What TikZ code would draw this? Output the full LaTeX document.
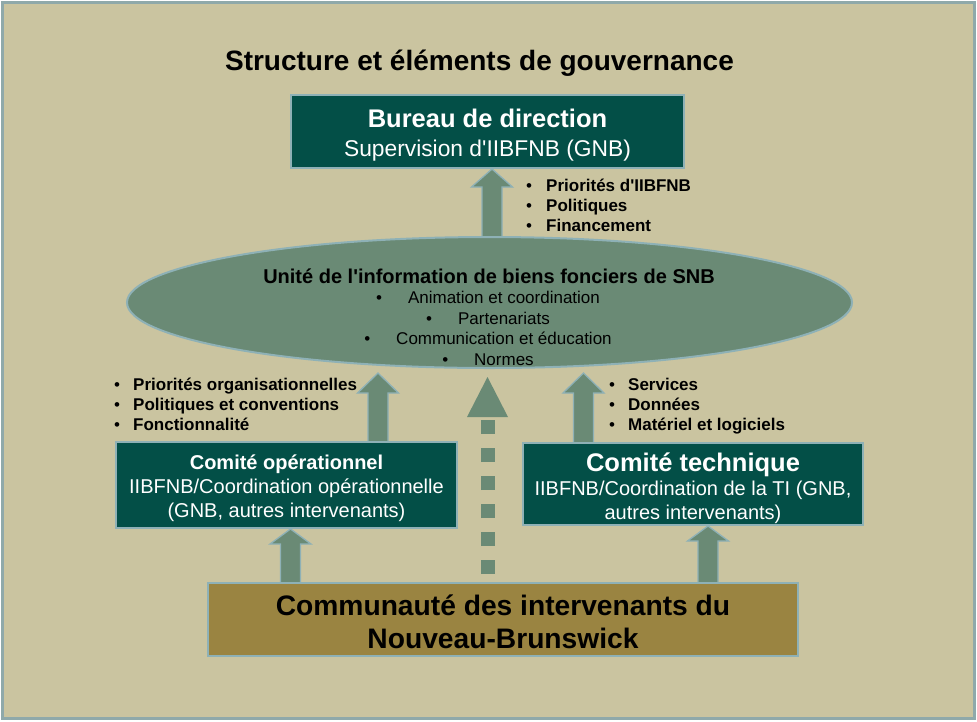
\documentclass[tikz,border=0pt]{standalone}
\usepackage{fontspec}
\setmainfont{Liberation Sans}
\usetikzlibrary{shapes.geometric,calc}
\definecolor{bgc}{HTML}{CAC4A0}
\definecolor{framec}{HTML}{8FA9AA}
\definecolor{dgreen}{HTML}{034F47}
\definecolor{edgec}{HTML}{8EB1B6}
\definecolor{sage}{HTML}{6A8A75}
\definecolor{olive}{HTML}{9A8441}
\newcommand\fs[2]{\fontsize{#1}{#2}\selectfont}
\newcommand\ap{\textquotesingle}
\pgfdeclarelayer{bgl}
\pgfdeclarelayer{arrows}
\pgfsetlayers{bgl,arrows,main}
\newcommand\blkarrow[3]{%
  \draw[blkst] let \p1=(#1), \p2=(#2) in
    (\x1-10pt,\y1) -- (\x1-10pt,\y2-#3) -- (\x1-20.5pt,\y2-#3) -- (\x1,\y2)
    -- (\x1+20.5pt,\y2-#3) -- (\x1+10pt,\y2-#3) -- (\x1+10pt,\y1) -- cycle;}
\begin{document}
\begin{tikzpicture}[x=1pt,y=-1pt,
  dbox/.style={draw=edgec, line width=2pt, fill=dgreen, inner sep=0pt},
  dtxt/.style={text=white, align=center, inner sep=0pt},
  blkst/.style={draw=edgec, line width=1.3pt, fill=sage, line join=miter},
  blt/.style={font=\bfseries\fs{17}{20}, inner sep=0pt, anchor=base west},
  eline/.style={font=\fs{17}{20}, inner sep=0pt, anchor=base},
]
\useasboundingbox (0,0) rectangle (977,721);
\begin{pgfonlayer}{bgl}
\draw[framec, line width=3pt, fill=bgc] (2.5,2.5) rectangle (974.5,718.5);
\end{pgfonlayer}

\node[font=\bfseries\fs{28}{32}, inner sep=0pt] (title) at (479.5,63) {Structure et éléments de gouvernance};

\node[dbox, minimum width=393pt, minimum height=73pt] (bur) at (487.5,131.5) {};
\node[dtxt, font=\fs{22.8}{29}] (burt) at ([yshift=-4pt]bur.center)
  {{\bfseries\fs{25.5}{29}Bureau de direction}\\Supervision d\ap IIBFNB (GNB)};

\node[ellipse, draw=edgec, line width=2pt, fill=sage, minimum width=725pt, minimum height=131pt, inner sep=0pt] (ell) at (489.5,302.5) {};
\node[font=\bfseries\fs{20}{24}, inner sep=0pt, anchor=base] (e0) at (489,283) {Unité de l\ap information de biens fonciers de SNB};
\node[eline] (e1) at (488,303.5) {\textbullet\hspace{26pt}Animation et coordination};
\node[eline] (e2) at (488,324) {\textbullet\hspace{26pt}Partenariats};
\node[eline] (e3) at (488,344.5) {\textbullet\hspace{26pt}Communication et éducation};
\node[eline] (e4) at (488,365) {\textbullet\hspace{26pt}Normes};

\node[dbox, minimum width=341pt, minimum height=86pt] (op) at (286.5,485) {};
\node[dtxt, font=\fs{20}{24}] (opt) at ([yshift=-3pt]op.center)
  {{\bfseries Comité opérationnel}\\IIBFNB/Coordination opérationnelle\\(GNB, autres intervenants)};
\node[dbox, minimum width=340pt, minimum height=82pt] (tech) at (693,484) {};
\node[dtxt, font=\fs{20}{24}] (techt) at ([yshift=-4.5pt]tech.center)
  {{\bfseries\fs{25.5}{28}Comité technique}\\IIBFNB/Coordination de la TI (GNB,\\autres intervenants)};
\node[draw=edgec, line width=2pt, fill=olive, minimum width=590pt, minimum height=73pt, inner sep=0pt] (comm) at (503,619.5) {};
\node[align=center, font=\bfseries\fs{28.2}{33}, inner sep=0pt] (commt) at ([yshift=-2pt]comm.center)
  {Communauté des intervenants du\\Nouveau-Brunswick};

\node[blt] (pa1) at (526,191) {\makebox[20pt][l]{\mdseries\textbullet}Priorités d\ap IIBFNB};
\node[blt] (pa2) at (526,211) {\makebox[20pt][l]{\mdseries\textbullet}Politiques};
\node[blt] (pa3) at (526,231) {\makebox[20pt][l]{\mdseries\textbullet}Financement};

\node[blt] (pb1) at (114,390) {\makebox[19pt][l]{\mdseries\textbullet}Priorités organisationnelles};
\node[blt] (pb2) at (114,410) {\makebox[19pt][l]{\mdseries\textbullet}Politiques et conventions};
\node[blt] (pb3) at (114,430) {\makebox[19pt][l]{\mdseries\textbullet}Fonctionnalité};

\node[blt] (pc1) at (609,390) {\makebox[19pt][l]{\mdseries\textbullet}Services};
\node[blt] (pc2) at (609,410) {\makebox[19pt][l]{\mdseries\textbullet}Données};
\node[blt] (pc3) at (609,430) {\makebox[19pt][l]{\mdseries\textbullet}Matériel et logiciels};

\coordinate (t1) at ([xshift=4.5pt]bur.south);
\coordinate (t2) at (378,373);
\coordinate (t3) at (583.5,373);
\coordinate (t4) at ([xshift=4pt]op.south);
\coordinate (t5) at ([xshift=15pt]tech.south);
\coordinate (t6) at (487.5,377);

\begin{pgfonlayer}{arrows}
\blkarrow{$(t1 |- ell.north)+(0,6)$}{t1}{18pt}
\blkarrow{$(op.north -| t2)+(0,6)$}{t2}{20pt}
\blkarrow{$(tech.north -| t3)+(0,6)$}{t3}{20pt}
\blkarrow{$(comm.north -| t4)+(0,6)$}{t4}{15pt}
\blkarrow{$(comm.north -| t5)+(0,6)$}{t5}{15pt}
\draw[sage, line width=14pt, dash pattern=on 14pt off 14pt] ($(comm.north -| t6)+(0,-8)$) -- ($(t6)+(0,40)$);
\fill[sage] ($(t6)+(-20.5,40)$) -- (t6) -- ($(t6)+(20.5,40)$) -- cycle;
\end{pgfonlayer}
\end{tikzpicture}
\end{document}
